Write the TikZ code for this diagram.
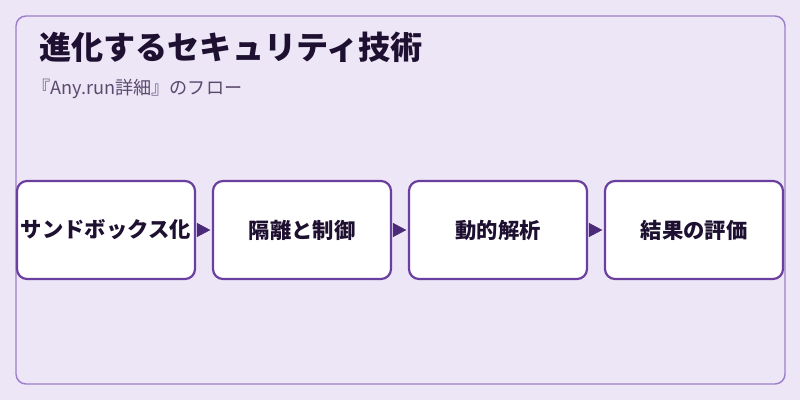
\documentclass[tikz,border=0pt]{standalone}
\usepackage{fontspec}
\setmainfont{Noto Sans CJK JP}
\usetikzlibrary{arrows.meta}
\definecolor{bgc}{HTML}{EDE6F6}
\definecolor{framec}{HTML}{9B7FCB}
\definecolor{boxc}{HTML}{6B3FA0}
\definecolor{arrc}{HTML}{4B2A7A}
\definecolor{titlec}{HTML}{1E1030}
\definecolor{subc}{HTML}{5A4A6E}
\tikzset{
  stepbox/.style={draw=boxc, line width=2.2pt*0.75, fill=white, rounded corners=7.5pt,
    minimum width=178*0.75pt, minimum height=98*0.75pt, inner sep=0pt,
    font=\bfseries\fontsize{16pt}{19pt}\selectfont, text=titlec},
  flow/.style={draw=arrc, line width=0.4pt, -{Triangle[length=10pt,width=10.5pt]},
    shorten <=2pt, shorten >=1.2pt, color=arrc}
}
\begin{document}
\begin{tikzpicture}[x=0.75pt,y=-0.75pt]
\useasboundingbox (0,0) rectangle (800,400);
\fill[bgc] (0,0) rectangle (800,400);
\draw[framec, line width=1.1pt, rounded corners=7.5pt] (16,16) rectangle (785,384);
\node[anchor=base west, inner sep=0pt, text=titlec, font=\bfseries\fontsize{24.1pt}{28pt}\selectfont] (title) at (39,59) {進化するセキュリティ技術};
\node[anchor=base west, inner sep=0pt, text=subc, font=\fontsize{13.6pt}{16pt}\selectfont] (sub) at (32,94) {『Any.run詳細』のフロー};
\node[stepbox] (b1) at (106,230) {サンドボックス化};
\node[stepbox] (b2) at (302,230) {隔離と制御};
\node[stepbox] (b3) at (498,230) {動的解析};
\node[stepbox] (b4) at (694,230) {結果の評価};
\draw[flow] (b1.east) -- (b2.west);
\draw[flow] (b2.east) -- (b3.west);
\draw[flow] (b3.east) -- (b4.west);
\end{tikzpicture}
\end{document}
